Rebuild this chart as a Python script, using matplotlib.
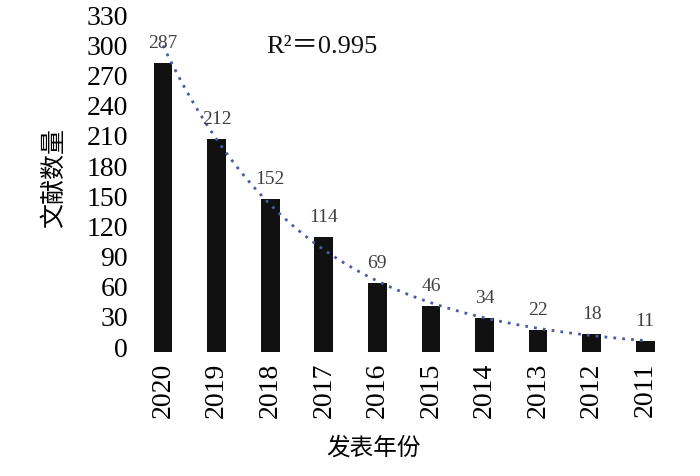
import numpy as np
import matplotlib
matplotlib.use("Agg")
import matplotlib.pyplot as plt
from matplotlib.transforms import ScaledTranslation

years = ["2020", "2019", "2018", "2017", "2016", "2015", "2014", "2013", "2012", "2011"]
counts = [287, 212, 152, 114, 69, 46, 34, 22, 18, 11]
yticks = [0, 30, 60, 90, 120, 150, 180, 210, 240, 270, 300, 330]

serif = ["Liberation Serif", "Noto Sans CJK SC"]
cjk = ["Noto Sans CJK SC", "DejaVu Sans"]

fig = plt.figure(figsize=(7, 4.76), dpi=100)
ax = fig.add_axes([0.187, 0.2605, 0.773, 0.697])

x = np.arange(len(years))
ax.bar(x, counts, width=0.35, color="#111111", zorder=2)

# exponential trendline (fit of ln y on x)
b, a = np.polyfit(x, np.log(counts), 1)
xf = np.linspace(0, len(years) - 1, 200)
ax.plot(xf, np.exp(a + b * xf), linestyle=(0, (1, 2.2)), color="#4b5ba0",
        linewidth=2.0, zorder=3)

for xi, v in zip(x, counts):
    ax.annotate(str(v), (xi, v), xytext=(0, 8), textcoords="offset points",
                ha="center", va="bottom", fontsize=14, color="#404040",
                family=serif)

ax.text(0.353, 0.918, "R²＝0.995", transform=ax.transAxes, fontsize=19,
        family=serif, ha="center", va="center", color="#111111")

ax.set_xlim(-0.6, 9.5)
ax.set_ylim(0, 330)
ax.set_yticks(yticks)
ax.set_yticklabels([str(t) for t in yticks], family=serif, fontsize=20)
ax.set_xticks(x)
ax.set_xticklabels(years, rotation=90, family=serif, fontsize=20)
ax.tick_params(axis="both", length=0)
ax.tick_params(axis="y", pad=2)
ax.tick_params(axis="x", pad=8)
for s in ax.spines.values():
    s.set_visible(False)

off = ScaledTranslation(0, 5 / 100, fig.dpi_scale_trans)
for t in ax.yaxis.get_major_ticks():
    t.label1.set_transform(t.label1.get_transform() + off)

ax.set_xlabel("发表年份", family=cjk, fontsize=17)
ax.set_ylabel("文献数量", family=cjk, fontsize=18)
ax.xaxis.set_label_coords(0.448, -0.255)
ax.yaxis.set_label_coords(-0.118, 0.524)

fig.savefig("out.png", dpi=100)
